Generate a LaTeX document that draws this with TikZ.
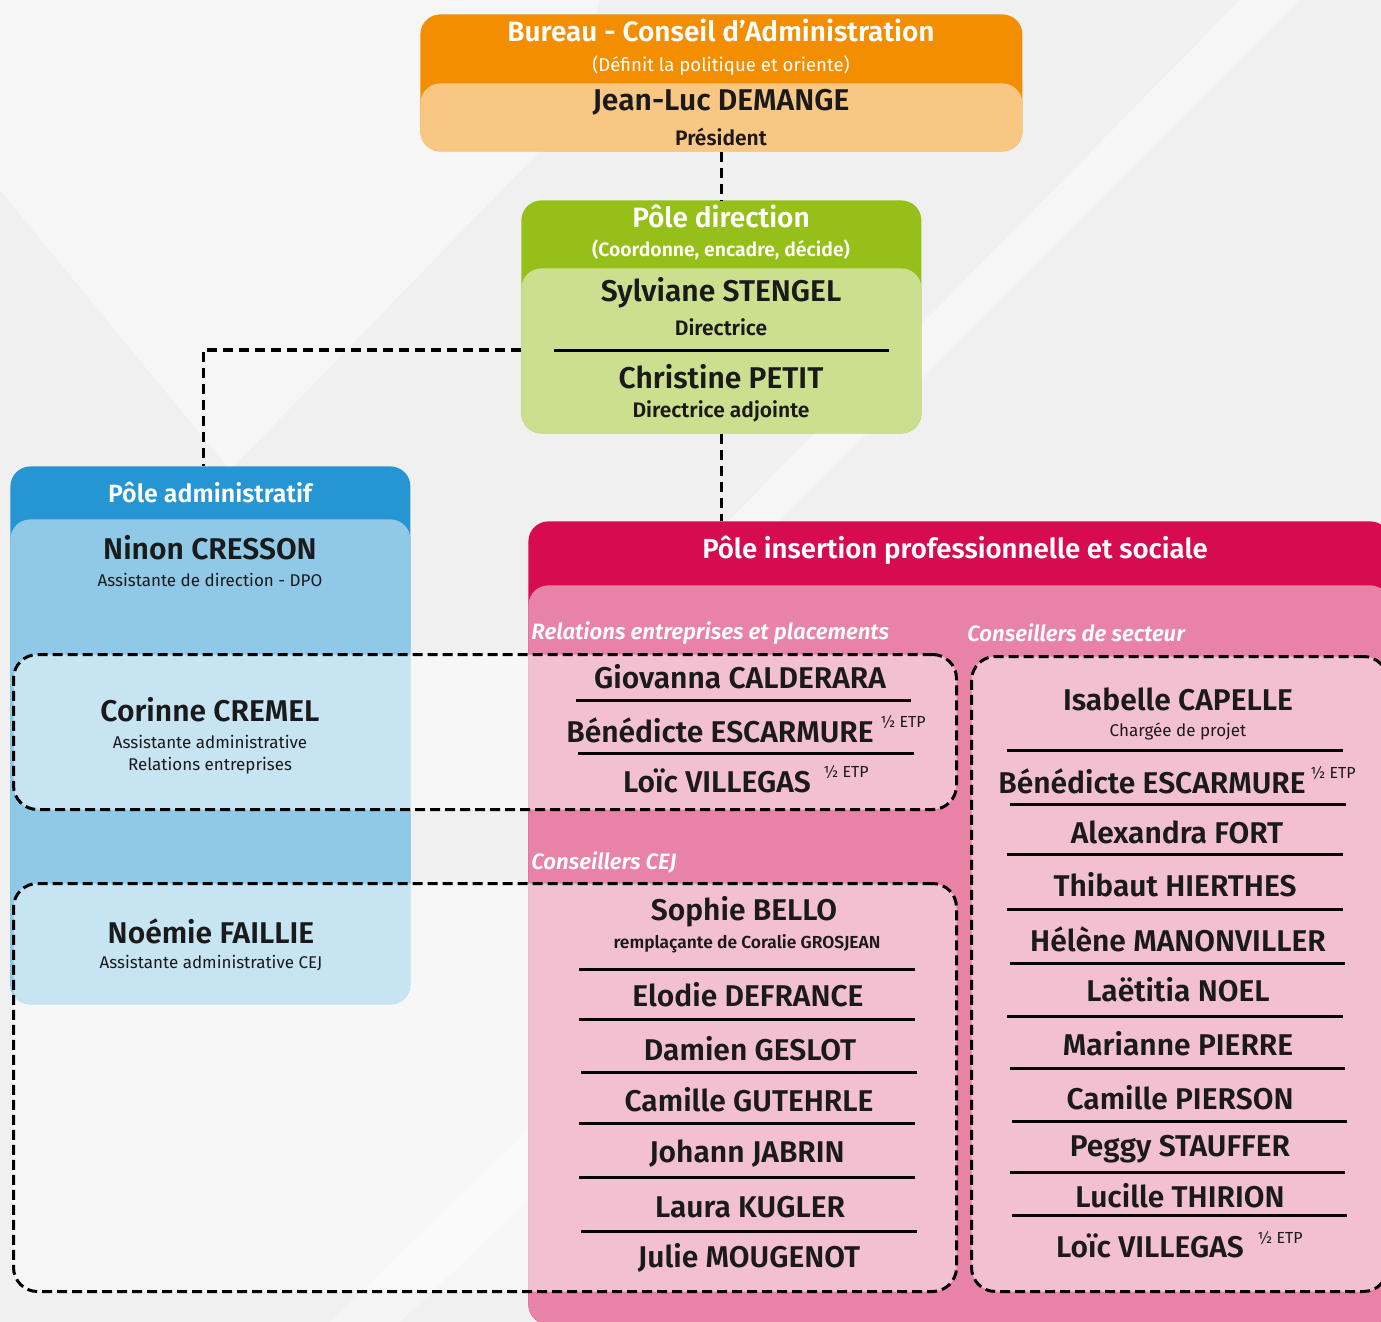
\documentclass[tikz,border=0pt]{standalone}
\usepackage{fontspec}
\setmainfont{Fira Sans}[BoldFont={Fira Sans SemiBold}, BoldItalicFont={Fira Sans SemiBold Italic}]
\usetikzlibrary{positioning}

\definecolor{fond}{HTML}{F0F0F0}
\definecolor{orangefonce}{HTML}{F28E00}
\definecolor{orangeclair}{HTML}{F9C784}
\definecolor{vertfonce}{HTML}{97BF1A}
\definecolor{vertclair}{HTML}{CCDF8E}
\definecolor{bleufonce}{HTML}{2696D3}
\definecolor{bleuclair}{HTML}{8FC9E7}
\definecolor{rosefonce}{HTML}{D60B50}
\definecolor{roseclair}{HTML}{E882A6}
\definecolor{texte}{HTML}{1A1A1A}

\tikzset{
    pole/.style={rounded corners=10pt, inner sep=0pt, anchor=north west},
    groupe/.style={pole, draw=black, line width=1.5pt, dash pattern=on 5pt off 2.5pt, fill=white, fill opacity=0.5, draw opacity=1, rounded corners=12pt},
    lien/.style={draw=black, line width=1.7pt, dash pattern=on 5pt off 3pt},
    trait/.style={draw=black, line width=1.5pt},
    titre/.style={inner sep=0pt, text=white, font=\bfseries\fontsize{14}{17}\selectfont},
    soustitre/.style={inner sep=0pt, text=white, font=\fontsize{9.3}{11}\selectfont},
    nom/.style={inner sep=0pt, text=texte, font=\bfseries\fontsize{15}{18}\selectfont},
    fonction/.style={inner sep=0pt, text=texte, font=\bfseries\fontsize{10.5}{12}\selectfont},
    poste/.style={inner sep=0pt, text=texte, font=\fontsize{8.5}{10}\selectfont},
    rubrique/.style={inner sep=0pt, anchor=west, text=white, font=\bfseries\itshape\fontsize{11.1}{13}\selectfont},
    etp/.style={inner sep=0pt, text=texte, font=\fontsize{8}{10}\selectfont}
}

\begin{document}
\begin{tikzpicture}[x=0.5pt, y=-0.5pt]

    \useasboundingbox (0,0) rectangle (1381,1322);
    \clip (0,0) rectangle (1381,1322);
    % Background
    \fill[fond] (0,0) rectangle (1381,1322);
    \fill[white, opacity=0.45] (0,0) -- (600,0) -- (560,130) -- (230,470) -- (0,190) -- cycle;
    \fill[white, opacity=0.45] (1240,0) -- (1300,0) -- (740,560) -- (690,560) -- cycle;
    \fill[white, opacity=0.35] (330,1322) -- (528,1130) -- (528,1200) -- (400,1322) -- cycle;

    % Bureau
    \node[pole, fill=orangefonce, minimum width=301pt, minimum height=68.5pt] (bureau) at (420,14) {};
    \node[pole, fill=orangeclair, minimum width=301pt, minimum height=34pt] (bureaunom) at (420,83) {};
    \node[titre] (titrebureau) at (721,30) {Bureau - Conseil d’Administration};
    \node[soustitre] (rolebureau) at (721,66) {(Définit la politique et oriente)};
    \node[nom] (demange) at (721,102) {Jean-Luc DEMANGE};
    \node[fonction] (president) at (721,137) {Président};

    % Pole direction
    \node[pole, fill=vertfonce, minimum width=200pt, minimum height=116.5pt] (direction) at (521,200) {};
    \node[pole, fill=vertclair, minimum width=200pt, minimum height=82.5pt] (directionnoms) at (521,268) {};
    \node[titre] (titredirection) at (721,216) {Pôle direction};
    \node[soustitre, font=\bfseries\fontsize{9.7}{12}\selectfont] (roledirection) at (721,250) {(Coordonne, encadre, décide)};
    \node[nom] (stengel) at (721,293) {Sylviane STENGEL};
    \node[fonction] (directrice) at (721,327) {Directrice};
    \coordinate (sepdir) at (554,350);
    \draw[trait] (sepdir) -- (889,350);
    \node[nom] (petit) at (721,377) {Christine PETIT};
    \node[fonction] (adjointe) at (721,411) {Directrice adjointe};

    % Pole administratif
    \node[pole, fill=bleufonce, minimum width=200pt, minimum height=269pt] (admin) at (10,466) {};
    \node[pole, fill=bleuclair, minimum width=200pt, minimum height=242.5pt] (adminnoms) at (10,519) {};
    \node[titre, font=\bfseries\fontsize{12.5}{15}\selectfont] (titreadmin) at (210,493) {Pôle administratif};
    \node[nom] (cresson) at (210,548) {Ninon CRESSON};
    \node[poste] (dpo) at (210,580) {Assistante de direction - DPO};

    % Pole insertion
    \node[pole, fill=rosefonce, minimum width=431pt, minimum height=401.5pt] (insertion) at (528,521) {};
    \node[pole, fill=roseclair, minimum width=431pt, minimum height=369.5pt] (insertionnoms) at (528,585) {};
    \node[titre, font=\bfseries\fontsize{13.8}{17}\selectfont] (titreinsertion) at (955,550) {Pôle insertion professionnelle et sociale};
    \node[rubrique] (relations) at (531,633) {Relations entreprises et placements};
    \node[rubrique] (secteur) at (967,633) {Conseillers de secteur};
    \node[rubrique] (cej) at (531,862) {Conseillers CEJ};

    % Dashed groups
    \node[groupe, minimum width=471.5pt, minimum height=77.5pt] (grouperel) at (12,653) {};
    \node[groupe, minimum width=471.5pt, minimum height=204pt] (groupecej) at (12,882) {};
    \node[groupe, minimum width=208pt, minimum height=317.5pt] (groupesect) at (970,655) {};

    % Links
    \draw[lien] (bureau.south) -- (direction.north);
    \draw[lien] (direction.west |- sepdir) -| ([xshift=-3.5pt]admin.north);
    \draw[lien] (direction.south) -- (direction.south |- insertion.north);

    % Admin
    \node[nom] (cremel) at (210,710) {Corinne CREMEL};
    \node[poste] (cremelposte) at (210,742) {Assistante administrative};
    \node[poste] (cremelrel) at (210,766) {Relations entreprises};
    \node[nom] (faillie) at (211,931) {Noémie FAILLIE};
    \node[poste] (failliecej) at (211,963) {Assistante administrative CEJ};

    % Relations entreprises
    \node[nom] (calderara) at (740,677) {Giovanna CALDERARA};
    \draw[trait] (576,700) -- (911,700);
    \node[nom] (escarmure) at (720,730) {Bénédicte ESCARMURE};
    \node[etp, anchor=west] (etpescarmure) at (880,722) {½ ETP};
    \draw[trait] (578,753) -- (914,753);
    \node[nom] (villegas) at (717,781) {Loïc VILLEGAS};
    \node[etp, anchor=west] (etpvillegas) at (823,772) {½ ETP};

    % CEJ
    \node[nom] (bello) at (744,912) {Sophie BELLO};
    \node[poste, font=\bfseries\fontsize{8.7}{10}\selectfont] (remplacante) at (747,944) {remplaçante de Coralie GROSJEAN};
    \draw[trait] (579,969) -- (915,969);
    \node[nom] (defrance) at (748,995) {Elodie DEFRANCE};
    \draw[trait] (579,1019) -- (915,1019);
    \node[nom] (geslot) at (750,1049) {Damien GESLOT};
    \draw[trait] (581,1072) -- (917,1072);
    \node[nom] (gutehrle) at (749,1100) {Camille GUTEHRLE};
    \draw[trait] (579,1123) -- (915,1123);
    \node[nom] (jabrin) at (747,1154) {Johann JABRIN};
    \draw[trait] (579,1177) -- (915,1177);
    \node[nom] (kugler) at (750,1207) {Laura KUGLER};
    \draw[trait] (581,1231) -- (917,1231);
    \node[nom] (mougenot) at (749,1258) {Julie MOUGENOT};

    % Conseillers de secteur
    \node[nom] (capelle) at (1178,699) {Isabelle CAPELLE};
    \node[poste] (projet) at (1178,731) {Chargée de projet};
    \draw[trait] (1007,750) -- (1343,750);
    \node[nom] (escarmure2) at (1152,781) {Bénédicte ESCARMURE};
    \node[etp, anchor=west] (etpescarmure2) at (1310,773) {½ ETP};
    \draw[trait] (1010,804) -- (1346,804);
    \node[nom] (fort) at (1177,832) {Alexandra FORT};
    \draw[trait] (1007,854) -- (1343,854);
    \node[nom] (hierthes) at (1175,885) {Thibaut HIERTHES};
    \draw[trait] (1007,909) -- (1343,909);
    \node[nom] (manonviller) at (1178,939) {Hélène MANONVILLER};
    \draw[trait] (1010,963) -- (1345,963);
    \node[nom] (noel) at (1178,990) {Laëtitia NOEL};
    \draw[trait] (1007,1016) -- (1343,1016);
    \node[nom] (pierre) at (1178,1044) {Marianne PIERRE};
    \draw[trait] (1010,1068) -- (1345,1068);
    \node[nom] (pierson) at (1180,1098) {Camille PIERSON};
    \draw[trait] (1012,1121) -- (1347,1121);
    \node[nom] (stauffer) at (1180,1149) {Peggy STAUFFER};
    \draw[trait] (1010,1172) -- (1345,1172);
    \node[nom] (thirion) at (1180,1196) {Lucille THIRION};
    \draw[trait] (1012,1215) -- (1347,1215);
    \node[nom] (villegas2) at (1150,1246) {Loïc VILLEGAS};
    \node[etp, anchor=west] (etpvillegas2) at (1257,1238) {½ ETP};
\end{tikzpicture}
\end{document}
